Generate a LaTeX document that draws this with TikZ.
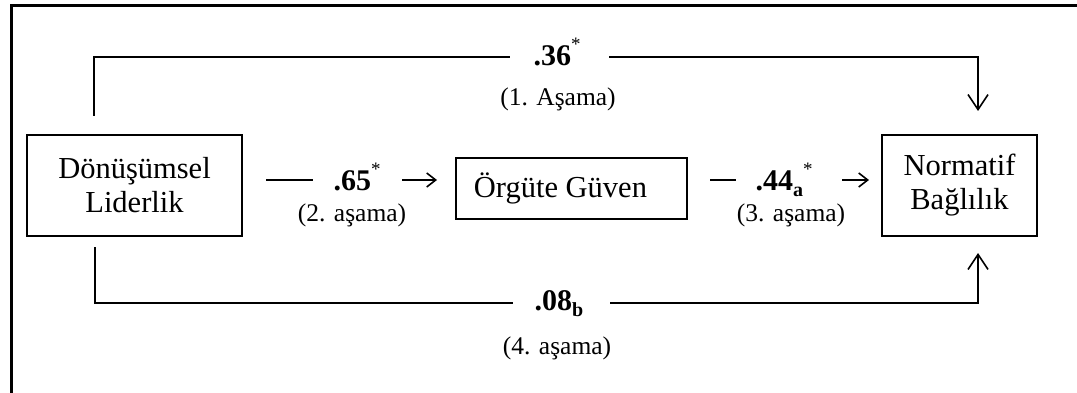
\documentclass[tikz,border=0pt]{standalone}
\usepackage{fontspec}
\setmainfont{Liberation Serif}
\usetikzlibrary{arrows.meta}
\newcommand\mysup[1]{\raisebox{0.5em}{\fontsize{19}{19}\selectfont\mdseries #1}}
\newcommand\mysub[1]{\raisebox{-0.22em}{\fontsize{20}{20}\selectfont\bfseries #1}}
\begin{document}
\begin{tikzpicture}[x=1pt,y=-1pt,
  box/.style={draw, line width=1.1pt, align=center, inner sep=0pt,
    font=\fontsize{30.5}{34}\selectfont},
  num/.style={inner sep=0pt, font=\fontsize{30}{32}\selectfont\bfseries},
  gap/.style={inner sep=0pt, minimum height=2pt},
  lab/.style={inner sep=0pt, font=\fontsize{25.5}{27}\selectfont},
  conn/.style={line width=1.6pt},
  bigtip/.style={-{Straight Barb[length=15pt,width=20pt]}},
  smalltip/.style={-{Straight Barb[length=9pt,width=14pt]}},
  frame/.style={line width=3pt}]
\useasboundingbox (0,0) rectangle (1077,393);
% outer frame (partial)
\coordinate (f1) at (11,393);
\coordinate (f2) at (11,6);
\coordinate (f3) at (1077,6);
\draw[frame] (f1) -- (f2) -- (f3);
% boxes
\node[box, minimum width=215pt, minimum height=101pt] (L) at (134.5,185.5) {Dönüşümsel\\Liderlik};
\node[box, minimum width=155pt, minimum height=101pt] (R) at (959.5,185.5) {Normatif\\Bağlılık};
\node[box, minimum width=231pt, minimum height=61pt] (M) at (571.5,188.5) {Örgüte Güven\hspace*{22pt}};
% top path (1. Asama)
\coordinate (t1) at (94,116);
\coordinate (t2) at (978,111);
\node[gap, minimum width=99pt] (g36) at (559.5,57) {};
\node[num, anchor=base] at (557,66) {.36\mysup{*}};
\draw[conn] (t1) |- (g36.west);
\draw[conn, bigtip] (g36.east) -| (t2);
\node[lab] (a1) at (558,99) {(1. Aşama)};
% bottom path (4. asama)
\coordinate (b1) at (95,247);
\coordinate (b2) at (978,253);
\node[gap, minimum width=97pt] (g08) at (561.5,303) {};
\node[num, anchor=base] at (559,310) {.08\mysub{b}};
\draw[conn] (b1) |- (g08.west);
\draw[conn, bigtip] (g08.east) -| (b2);
\node[lab] (a4) at (557,348) {(4. aşama)};
% middle path 2
\coordinate (m1) at (266,180);
\coordinate (m2) at (437,180);
\node[gap, minimum width=89pt] (g65) at (357.5,180) {};
\node[num, anchor=base] at (357,190) {.65\mysup{*}};
\draw[conn] (m1) -- (g65.west);
\draw[conn, smalltip] (g65.east) -- (m2);
\node[lab] (a2) at (352,215) {(2. aşama)};
% middle path 3
\coordinate (m3) at (710,180);
\coordinate (m4) at (869,180);
\node[gap, minimum width=106pt] (g44) at (789,180) {};
\node[num, anchor=base] at (784,190) {.44\mysub{a}\mysup{*}};
\draw[conn] (m3) -- (g44.west);
\draw[conn, smalltip] (g44.east) -- (m4);
\node[lab] (a3) at (791,215) {(3. aşama)};
\end{tikzpicture}
\end{document}
